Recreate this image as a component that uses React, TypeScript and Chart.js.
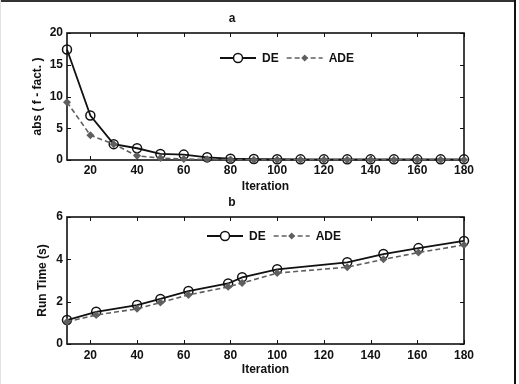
import React, { useEffect, useRef } from "react";
import { Chart, registerables } from "chart.js";

Chart.register(...registerables);

// ---- Data (a): absolute error vs iteration ----
const iterA = [10, 20, 30, 40, 50, 60, 70, 80, 90, 100, 110, 120, 130, 140, 150, 160, 170, 180];
const deA = [17.4, 7.0, 2.5, 1.85, 0.95, 0.85, 0.42, 0.2, 0.15, 0.12, 0.1, 0.1, 0.1, 0.1, 0.1, 0.1, 0.1, 0.1];
const adeA = [9.1, 3.9, 2.5, 0.65, 0.3, 0.15, 0.1, 0.08, 0.05, 0.05, 0.05, 0.05, 0.05, 0.05, 0.05, 0.05, 0.05, 0.05];

// ---- Data (b): run time vs iteration ----
const iterB = [10, 22.5, 40, 50, 62, 79, 85, 100, 130, 145.5, 160.5, 180];
const deB = [1.13, 1.52, 1.84, 2.13, 2.5, 2.86, 3.15, 3.53, 3.86, 4.25, 4.53, 4.87];
const adeB = [1.05, 1.37, 1.66, 1.96, 2.32, 2.7, 2.88, 3.35, 3.63, 4.0, 4.32, 4.68];

const seriesNames = ["DE", "ADE"];
const titleA = "a";
const titleB = "b";
const xTitle = "Iteration";
const yTitleA = "abs ( f - fact. )";
const yTitleB = "Run Time (s)";

const FONT_FAMILY = '"Liberation Sans", Arial, Helvetica, sans-serif';
const DE_COLOR = "#111111";
const ADE_COLOR = "#5f5f5f";

const boxTicks = {
  id: "boxTicks",
  beforeDatasetsDraw(chart: any) {
    const { ctx, chartArea: a, scales } = chart;
    const len = 4;
    ctx.save();
    ctx.strokeStyle = "#111";
    ctx.lineWidth = 1;
    ctx.beginPath();
    for (const t of scales.x.ticks) {
      const px = Math.round(scales.x.getPixelForValue(t.value)) + 0.5;
      ctx.moveTo(px, a.bottom);
      ctx.lineTo(px, a.bottom - len);
      ctx.moveTo(px, a.top);
      ctx.lineTo(px, a.top + len);
    }
    for (const t of scales.y.ticks) {
      const py = Math.round(scales.y.getPixelForValue(t.value)) + 0.5;
      ctx.moveTo(a.left, py);
      ctx.lineTo(a.left + len, py);
      ctx.moveTo(a.right, py);
      ctx.lineTo(a.right - len, py);
    }
    ctx.stroke();
    ctx.lineWidth = 1.6;
    ctx.strokeRect(a.left, a.top, a.right - a.left, a.bottom - a.top);
    ctx.restore();
  },
};

const lineLegend = {
  id: "lineLegend",
  afterDraw(chart: any, _args: any, opts: any) {
    const { ctx, chartArea: a } = chart;
    let x = a.left + opts.dx;
    const y = a.top + opts.dy;
    ctx.save();
    ctx.font = `bold 12px ${FONT_FAMILY}`;
    ctx.textBaseline = "middle";
    ctx.textAlign = "left";
    const order = [0, 1];
    for (const i of order) {
      const ds = chart.data.datasets[i];
      const lineLen = 36;
      ctx.strokeStyle = ds.borderColor;
      ctx.lineWidth = ds.borderWidth;
      ctx.setLineDash(ds.borderDash || []);
      ctx.beginPath();
      ctx.moveTo(x, y);
      ctx.lineTo(x + lineLen, y);
      ctx.stroke();
      ctx.setLineDash([]);
      const cx = x + lineLen / 2;
      if (ds.pointStyle === "circle") {
        ctx.beginPath();
        ctx.arc(cx, y, ds.pointRadius, 0, Math.PI * 2);
        ctx.fillStyle = "#ffffff";
        ctx.fill();
        ctx.lineWidth = ds.pointBorderWidth;
        ctx.strokeStyle = ds.pointBorderColor;
        ctx.stroke();
      } else {
        const r = ds.pointRadius - 0.5;
        ctx.beginPath();
        ctx.moveTo(cx, y - r);
        ctx.lineTo(cx + r, y);
        ctx.lineTo(cx, y + r);
        ctx.lineTo(cx - r, y);
        ctx.closePath();
        ctx.fillStyle = ds.pointBackgroundColor;
        ctx.fill();
      }
      x += lineLen + 6;
      ctx.fillStyle = "#111";
      ctx.fillText(ds.label, x, y + 0.5);
      x += ctx.measureText(ds.label).width + 8;
    }
    ctx.restore();
  },
};

function makeConfig(
  xs: number[],
  de: number[],
  ade: number[],
  yMax: number,
  yStep: number,
  title: string,
  yTitle: string,
  cfg: any
) {
  return {
    type: "line",
    data: {
      datasets: [
        {
          label: seriesNames[0],
          data: xs.map((x, i) => ({ x, y: de[i] })),
          borderColor: DE_COLOR,
          borderWidth: 1.8,
          pointStyle: "circle",
          pointRadius: 4.5,
          pointBorderWidth: 1.5,
          pointBorderColor: DE_COLOR,
          pointBackgroundColor: "rgba(255,255,255,0)",
          clip: false,
          order: 2,
        },
        {
          label: seriesNames[1],
          data: xs.map((x, i) => ({ x, y: ade[i] })),
          borderColor: ADE_COLOR,
          borderWidth: 1.6,
          borderDash: [5, 3],
          pointStyle: "rectRot",
          pointRadius: 4,
          pointBorderWidth: 0,
          pointBorderColor: ADE_COLOR,
          pointBackgroundColor: ADE_COLOR,
          clip: false,
          order: 1,
        },
      ],
    },
    options: {
      responsive: false,
      animation: false,
      devicePixelRatio: 1,
      layout: { padding: { left: 0, right: 55, top: 0, bottom: 0 } },
      plugins: {
        legend: { display: false },
        tooltip: { enabled: false },
        title: {
          display: true,
          text: title,
          color: "#111",
          font: { family: FONT_FAMILY, size: 12, weight: "bold" },
          padding: { top: cfg.titleTop, bottom: cfg.titleBottom },
        },
        lineLegend: { dx: cfg.legendDx, dy: cfg.legendDy },
      },
      scales: {
        x: {
          type: "linear",
          min: 10,
          max: 180,
          grid: { display: false, drawTicks: false },
          border: { display: false },
          afterBuildTicks: (s: any) => {
            s.ticks = s.ticks.filter((t: any) => t.value % 20 === 0);
          },
          afterFit: (s: any) => {
            s.height = cfg.xHeight;
          },
          ticks: {
            stepSize: 20,
            padding: cfg.xTickPad,
            color: "#111",
            maxRotation: 0,
            font: { family: FONT_FAMILY, size: 12, weight: "bold" },
          },
          title: {
            display: true,
            text: xTitle,
            color: "#111",
            font: { family: FONT_FAMILY, size: 12, weight: "bold" },
            padding: { top: 0, bottom: cfg.xTitleBottom },
          },
        },
        y: {
          type: "linear",
          min: 0,
          max: yMax,
          grid: { display: false, drawTicks: false },
          border: { display: false },
          afterFit: (s: any) => {
            s.width = 67;
          },
          ticks: {
            stepSize: yStep,
            padding: 4,
            color: "#111",
            font: { family: FONT_FAMILY, size: 12, weight: "bold" },
          },
          title: {
            display: true,
            text: yTitle,
            color: "#111",
            font: { family: FONT_FAMILY, size: 12, weight: "bold" },
            padding: { top: cfg.yTitleTop, bottom: 0 },
          },
        },
      },
    },
    plugins: [boxTicks, lineLegend],
  };
}

function LineChart(props: { config: any; width: number; height: number; top: number }) {
  const ref = useRef<HTMLCanvasElement | null>(null);
  useEffect(() => {
    if (!ref.current) return;
    const chart = new Chart(ref.current, props.config);
    return () => chart.destroy();
  }, []);
  return (
    <canvas
      ref={ref}
      width={props.width}
      height={props.height}
      style={{
        position: "absolute",
        left: 0,
        top: props.top,
        width: props.width,
        height: props.height,
      }}
    />
  );
}

export default function App() {
  const cfgA = makeConfig(iterA, deA, adeA, 20, 5, titleA, yTitleA, {
    titleTop: 11.8,
    titleBottom: 6.8,
    xHeight: 40,
    xTickPad: 3,
    xTitleBottom: 5.8,
    yTitleTop: 30.8,
    legendDx: 153,
    legendDy: 25,
  });
  const cfgB = makeConfig(iterB, deB, adeB, 6, 2, titleB, yTitleB, {
    titleTop: 5.8,
    titleBottom: 6.8,
    xHeight: 40,
    xTickPad: 4,
    xTitleBottom: 6.8,
    yTitleTop: 35.8,
    legendDx: 140,
    legendDy: 19,
  });
  return (
    <div
      style={{
        position: "fixed",
        left: 0,
        top: 0,
        width: 519,
        height: 384,
        background: "#ffffff",
        overflow: "hidden",
      }}
    >
      <LineChart config={cfgA} width={519} height={200} top={0} />
      <LineChart config={cfgB} width={519} height={194} top={190} />
      <div style={{ position: "absolute", left: 0, top: 0, width: 516, height: 2, background: "#333" }} />
      <div style={{ position: "absolute", left: 514, top: 0, width: 2, height: 384, background: "#111" }} />
      <div style={{ position: "absolute", left: 0, top: 0, width: 1, height: 384, background: "#e2e2e2" }} />
    </div>
  );
}
